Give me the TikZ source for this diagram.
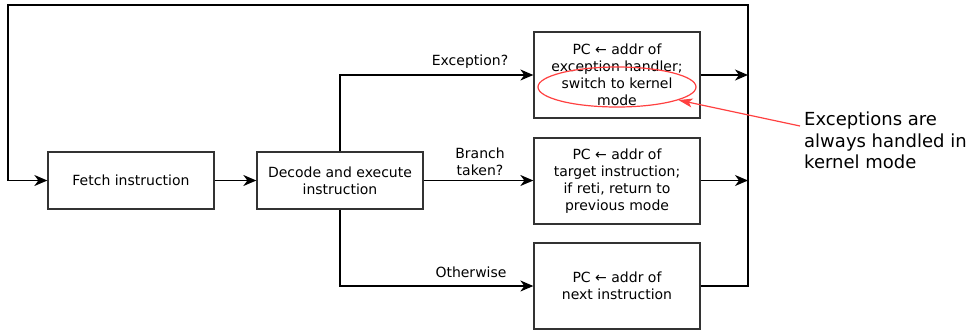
\documentclass[tikz,border=0pt]{standalone}
\usepackage{fontspec}
\setmainfont{DejaVu Sans}
\usetikzlibrary{arrows.meta,positioning,shapes.geometric}
\begin{document}
\begin{tikzpicture}[x=1pt,y=-1pt,
  box/.style={draw=black!80,line width=1.3pt,minimum width=166pt,align=center,
    font=\fontsize{14}{17}\selectfont,inner sep=0pt},
  wire/.style={draw=black,line width=1.3pt},
  tip/.style={-{Stealth[length=13pt,width=11pt,inset=4pt]}},
  lbl/.style={font=\fontsize{14}{16.5}\selectfont,align=center,inner sep=0pt},
  note/.style={draw=red!75,line width=1.2pt}]
\useasboundingbox (0,0) rectangle (969,330);

% stages
\node[box,minimum height=57pt] (fetch) at (131,180.5) {Fetch instruction};
\node[box,minimum height=57pt] (decode) at (340,180.5) {Decode and execute\\instruction};
\node[box,minimum height=86pt] (exc) at (617,75) {PC ← addr of\\exception handler;\\switch to kernel\\mode};
\node[box,minimum height=86pt] (br) at (617,181) {PC ← addr of\\target instruction;\\if reti, return to\\previous mode};
\node[box,minimum height=86pt] (nxt) at (617,286) {PC ← addr of\\next instruction};

% loop-back rail
\coordinate (rtop) at (748,5);
\coordinate (ltop) at (8,5);
\coordinate (lmid) at (8,180.5);

% fetch -> decode
\draw[wire,tip] (fetch.east) -- (decode.west);

% decode -> three outcomes
\draw[wire,tip] (decode.north) |- (exc.west);
\draw[wire,tip] (decode.east) -- (decode.east -| br.west);
\draw[wire,tip] (decode.south) |- (nxt.west);
\node[lbl] (lexc) at (470,62) {Exception?};
\node[lbl] (lbr) at (480,162) {Branch\\taken?};
\node[lbl] (loth) at (471,272) {Otherwise};

% outcomes -> rail
\draw[wire,tip] (exc.east) -- (exc.east -| rtop);
\draw[wire,tip] (br.east |- decode.east) -- (decode.east -| rtop);
\draw[wire,tip] (nxt.east) -- (nxt.east -| rtop) -- (rtop) -- (ltop) -- (lmid) -- (fetch.west);

% annotation
\node[ellipse,note,minimum width=158pt,minimum height=40pt,inner sep=0pt] (mark) at (617,87) {};
\node[anchor=north west,align=left,inner sep=0pt,
  font=\fontsize{18}{21.5}\selectfont] (remark) at (804,112)
  {Exceptions are\\always handled in\\kernel mode};
\coordinate (rstart) at (800,126);
\draw[note,-{Stealth[length=14pt,width=9pt,inset=3.5pt]}] (rstart) -- (mark.-12);
\end{tikzpicture}
\end{document}
